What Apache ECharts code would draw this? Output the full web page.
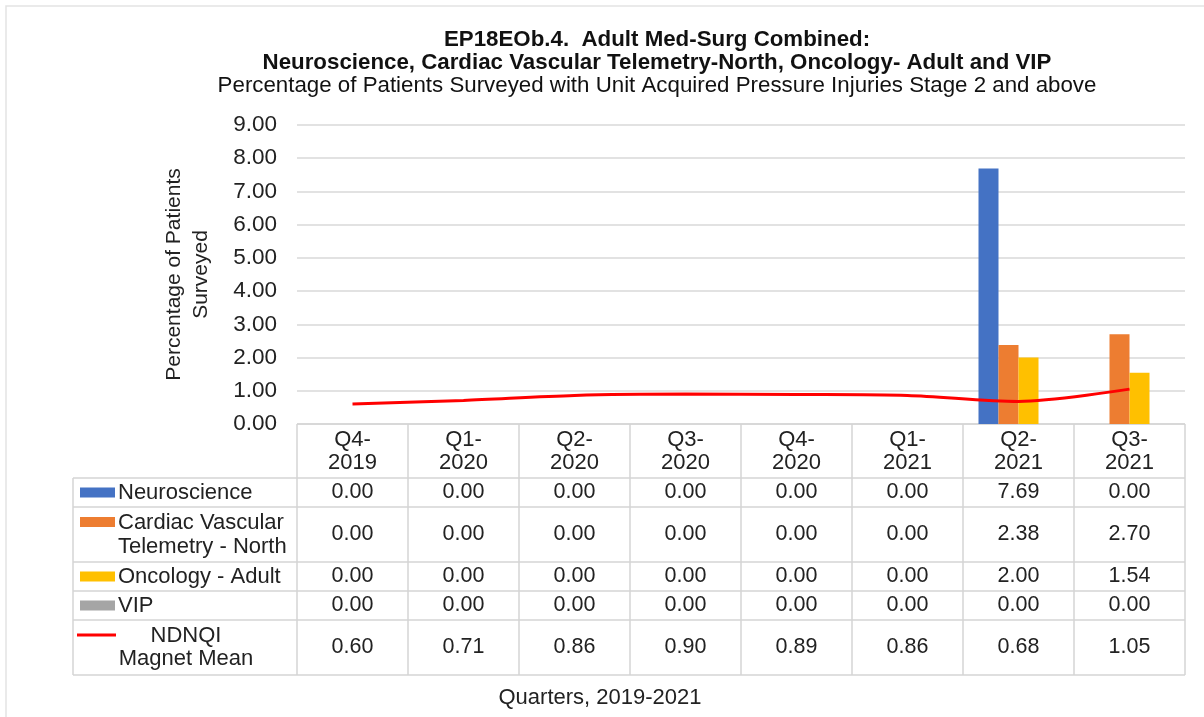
<!DOCTYPE html>
<html>
<head>
<meta charset="utf-8">
<script src="https://cdn.jsdelivr.net/npm/echarts@6/dist/echarts.min.js"></script>
<style>
  html, body { margin: 0; padding: 0; background: #fff; }
  #viz { width: 1204px; height: 717px; }
</style>
</head>
<body>
<div id="viz"></div>
<script>
// data
var quarters = ['Q4-\n2019', 'Q1-\n2020', 'Q2-\n2020', 'Q3-\n2020', 'Q4-\n2020', 'Q1-\n2021', 'Q2-\n2021', 'Q3-\n2021'];
var neuroscience = [0.00, 0.00, 0.00, 0.00, 0.00, 0.00, 7.69, 0.00];
var cardiacNorth = [0.00, 0.00, 0.00, 0.00, 0.00, 0.00, 2.38, 2.70];
var oncologyAdult = [0.00, 0.00, 0.00, 0.00, 0.00, 0.00, 2.00, 1.54];
var vip = [0.00, 0.00, 0.00, 0.00, 0.00, 0.00, 0.00, 0.00];
var ndnqiMean = [0.60, 0.71, 0.86, 0.90, 0.89, 0.86, 0.68, 1.05];

var FONT = '"Liberation Sans", Arial, sans-serif';
var TXT = '#222';
var GRIDLINE = '#d9d9d9';

// layout of plot + table underneath
var gridLeft = 297, gridRight = 1185, gridTop = 125, gridBottom = 424;
var rowEdges = [424, 478, 507, 562, 591, 620, 675];
var keyLeft = 73;

var rows = [
    {name: 'Neuroscience', color: '#4472C4', data: neuroscience},
    {name: 'Cardiac Vascular\nTelemetry - North', color: '#ED7D31', data: cardiacNorth},
    {name: 'Oncology - Adult', color: '#FFC000', data: oncologyAdult},
    {name: 'VIP', color: '#A5A5A5', data: vip},
    {name: 'NDNQI\nMagnet Mean', color: '#FF0000', data: ndnqiMean, line: true}
];

var dom = document.getElementById('viz');
var myChart = echarts.init(dom, null, {renderer: 'canvas'});

var series = [];
for (var i = 0; i < rows.length; i++) {
    if (rows[i].line) {
        series.push({
            name: rows[i].name, type: 'line', data: rows[i].data,
            smooth: 0.3, showSymbol: false, symbol: 'none', z: 5,
            lineStyle: {color: rows[i].color, width: 3},
            itemStyle: {color: rows[i].color}
        });
    } else {
        series.push({
            name: rows[i].name, type: 'bar', data: rows[i].data,
            barWidth: 20, barGap: '0%',
            itemStyle: {color: rows[i].color}
        });
    }
}

var option = {
    animation: false,
    backgroundColor: '#fff',
    grid: {left: gridLeft, top: gridTop, width: gridRight - gridLeft, height: gridBottom - gridTop},
    xAxis: {
        type: 'category', data: quarters,
        axisLine: {show: false}, axisTick: {show: false}, axisLabel: {show: false}
    },
    yAxis: {
        type: 'value', min: 0, max: 9, interval: 1,
        name: 'Percentage of Patients\nSurveyed',
        nameLocation: 'middle', nameRotate: 90, nameGap: 82,
        nameTextStyle: {fontFamily: FONT, fontSize: 21, color: TXT, lineHeight: 27},
        axisLine: {show: false}, axisTick: {show: false},
        axisLabel: {
            margin: 20, fontFamily: FONT, fontSize: 22.5, color: TXT,
            formatter: function (v) { return v.toFixed(2); }
        },
        splitLine: {lineStyle: {color: GRIDLINE, width: 1.5}}
    },
    series: series
};
myChart.setOption(option);

// titles, table and surrounding texts
var g = [];
g.push({type: 'rect', shape: {x: 6, y: 6, width: 1400, height: 900},
    style: {fill: null, stroke: '#e3e3e3', lineWidth: 1.5}, silent: true});

var titleLines = [
    {t: 'EP18EOb.4.  Adult Med-Surg Combined:', y: 40, w: 'bold'},
    {t: 'Neuroscience, Cardiac Vascular Telemetry-North, Oncology- Adult and VIP', y: 63, w: 'bold'},
    {t: 'Percentage of Patients Surveyed with Unit Acquired Pressure Injuries Stage 2 and above', y: 86, w: 'normal'}
];
titleLines.forEach(function (l) {
    g.push({type: 'text', x: 657, y: l.y, style: {text: l.t, fontFamily: FONT, fontSize: 22.3,
        fontWeight: l.w, fill: '#111', align: 'center', verticalAlign: 'middle'}});
});

var bw = (gridRight - gridLeft) / quarters.length;
var tableLine = {stroke: '#d4d4d4', lineWidth: 1.5};

// horizontal table lines
for (var r = 0; r < rowEdges.length; r++) {
    var x1 = r === 0 ? gridLeft : keyLeft;
    g.push({type: 'line', shape: {x1: x1, y1: rowEdges[r], x2: gridRight, y2: rowEdges[r]}, style: tableLine});
}
// vertical table lines
g.push({type: 'line', shape: {x1: keyLeft, y1: rowEdges[1], x2: keyLeft, y2: rowEdges[6]}, style: tableLine});
for (var c = 0; c <= quarters.length; c++) {
    var xc = gridLeft + c * bw;
    g.push({type: 'line', shape: {x1: xc, y1: rowEdges[0], x2: xc, y2: rowEdges[6]}, style: tableLine});
}

// header + values
for (var q = 0; q < quarters.length; q++) {
    var cx = myChart.convertToPixel({xAxisIndex: 0}, q);
    g.push({type: 'text', x: cx, y: (rowEdges[0] + rowEdges[1]) / 2, style: {text: quarters[q],
        fontFamily: FONT, fontSize: 22, lineHeight: 23, fill: TXT, align: 'center', verticalAlign: 'middle'}});
    for (var k = 0; k < rows.length; k++) {
        g.push({type: 'text', x: cx, y: (rowEdges[k + 1] + rowEdges[k + 2]) / 2, style: {
            text: rows[k].data[q].toFixed(2), fontFamily: FONT, fontSize: 21.5, fill: TXT,
            align: 'center', verticalAlign: 'middle'}});
    }
}

// legend keys in the first column
for (var k = 0; k < rows.length; k++) {
    var rowTop = rowEdges[k + 1], rowBot = rowEdges[k + 2];
    var mid = (rowTop + rowBot) / 2;
    var twoLines = rows[k].name.indexOf('\n') >= 0;
    var keyY = twoLines ? rowTop + 15 : mid;
    if (rows[k].line) {
        g.push({type: 'line', shape: {x1: 77, y1: keyY, x2: 116, y2: keyY},
            style: {stroke: rows[k].color, lineWidth: 3}});
        g.push({type: 'text', x: 186, y: mid, style: {text: rows[k].name, fontFamily: FONT, fontSize: 22,
            lineHeight: 23, fill: TXT, align: 'center', verticalAlign: 'middle'}});
    } else {
        g.push({type: 'rect', shape: {x: 80, y: keyY - 5, width: 35, height: 10}, style: {fill: rows[k].color}});
        g.push({type: 'text', x: 118, y: mid, style: {text: rows[k].name, fontFamily: FONT, fontSize: 22,
            lineHeight: 24, fill: TXT, align: 'left', verticalAlign: 'middle'}});
    }
}

g.push({type: 'text', x: 600, y: 698, style: {text: 'Quarters, 2019-2021', fontFamily: FONT, fontSize: 22,
    fill: TXT, align: 'center', verticalAlign: 'middle'}});

myChart.setOption({graphic: g});
</script>
</body>
</html>
